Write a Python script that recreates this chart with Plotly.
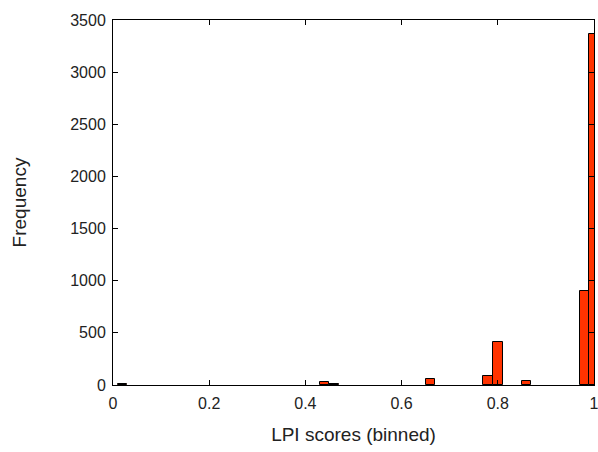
import plotly.graph_objects as go

bin_centers = [0.02, 0.44, 0.46, 0.66, 0.78, 0.80, 0.86, 0.98, 1.00]
frequency = [10, 30, 10, 60, 85, 415, 40, 900, 3370]
bin_width = 0.02

x_ticks = [0, 0.2, 0.4, 0.6, 0.8, 1]
x_tick_labels = ["0", "0.2", "0.4", "0.6", "0.8", "1"]
y_ticks = [0, 500, 1000, 1500, 2000, 2500, 3000, 3500]

fig = go.Figure()
fig.add_trace(go.Bar(
    x=bin_centers, y=frequency, width=[bin_width] * len(bin_centers),
    marker=dict(color="#ff3300", line=dict(color="#000000", width=1)),
    showlegend=False,
))

font = dict(family="Liberation Sans, Arial, sans-serif", size=16, color="#222222")
fig.update_layout(
    width=598, height=452,
    margin=dict(l=113, r=4, t=20, b=67, autoexpand=False),
    paper_bgcolor="white", plot_bgcolor="white",
    font=font,
    bargap=0,
    xaxis=dict(
        range=[0, 1], tickvals=x_ticks, ticktext=x_tick_labels,
        ticks="inside", ticklen=5, tickcolor="#000", tickwidth=1,
        showline=True, linecolor="#000", linewidth=1, mirror="ticks",
        showgrid=False, zeroline=False,
        title=dict(text="LPI scores (binned)", standoff=16),
        ticklabelstandoff=4, ticklabeloverflow="allow",
    ),
    yaxis=dict(
        range=[0, 3500], tickvals=y_ticks,
        ticks="inside", ticklen=5, tickcolor="#000", tickwidth=1,
        showline=True, linecolor="#000", linewidth=1, mirror="ticks",
        showgrid=False, zeroline=False,
        title=dict(text="Frequency", standoff=38),
        ticklabelstandoff=3, ticklabeloverflow="allow",
    ),
)

fig.write_html(
    "out.html",
    config={"displayModeBar": False},
    post_script="document.body.style.margin='0';document.body.style.overflow='hidden';",
)
